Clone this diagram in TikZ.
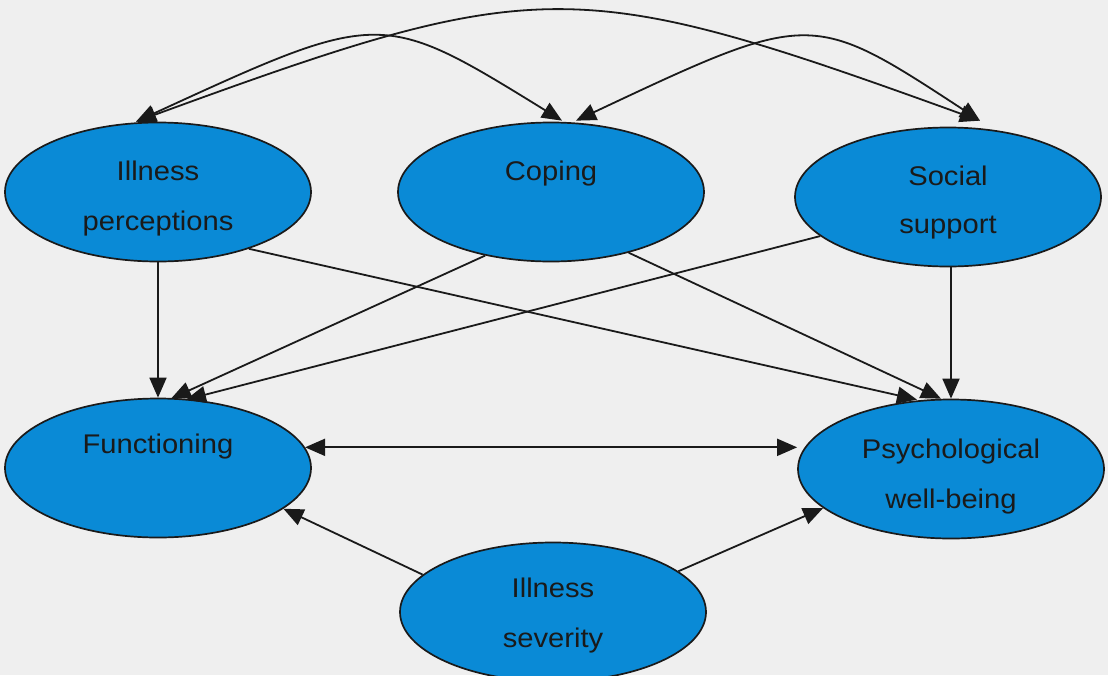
\documentclass[tikz,border=0pt]{standalone}
\usepackage{fontspec}
\setmainfont{Liberation Sans}[FakeStretch=1.08]
\usetikzlibrary{arrows.meta,calc,shapes.geometric}
\definecolor{blobfill}{HTML}{0A8AD6}
\definecolor{ink}{HTML}{1A1A1A}
\definecolor{paper}{HTML}{EFEFEF}
\begin{document}
\begin{tikzpicture}[x=1pt,y=-1pt,
  blob/.style={ellipse,draw=ink,line width=1.7pt,fill=blobfill,inner sep=0pt,
    minimum width=306pt,minimum height=139pt},
  lbl/.style={anchor=base,inner sep=0pt,text=ink,font=\fontsize{27}{30}\selectfont},
  head/.tip={Triangle[length=20pt,width=17pt]},
  conn/.style={draw=ink,line width=1.8pt,-head},
  both/.style={draw=ink,line width=1.8pt,head-head}]

% page
\fill[paper] (0,0) rectangle (1108,675);
\useasboundingbox (0,0) rectangle (1108,675);

% factors
\node[blob] (ip) at (158,192) {};
\node[blob] (cp) at (551,192) {};
\node[blob] (ss) at (948,197) {};
\node[blob] (fn) at (158,468) {};
\node[blob] (ps) at (951,469) {};
\node[blob] (sv) at (553,612) {};

\node[lbl] (ipA) at (158,180) {Illness};
\node[lbl] (ipB) at (158,230) {perceptions};
\node[lbl] (cpA) at (551,180) {Coping};
\node[lbl] (ssA) at (948,185) {Social};
\node[lbl] (ssB) at (948,233) {support};
\node[lbl] (fnA) at (158,453) {Functioning};
\node[lbl] (psA) at (951,458) {Psychological};
\node[lbl] (psB) at (951,508) {well-being};
\node[lbl] (svA) at (553,597) {Illness};
\node[lbl] (svB) at (553,647) {severity};

% arrow end points on the upper row
\coordinate (ipT) at ($(ip.north)+(-22,0)$);
\coordinate (cpTl) at ($(cp.north)+(11,-1)$);
\coordinate (cpTr) at ($(cp.north)+(25,-1)$);
\coordinate (ssT) at ($(ss.north)+(32,-6)$);

% mutual links across the top
\draw[both] (ipT) .. controls (540,-26) and (575,-26) .. (ssT);
\draw[both] (ipT) .. controls (381,9) .. (cpTl);
\draw[both] (cpTr) .. controls (811,10) .. (ssT);

% into functioning
\draw[conn] (ip.south) -- (fn.north);
\draw[conn] (cp.224) -- ($(fn.north)+(13,1)$);
\draw[conn] (ss.197) -- ($(fn.north)+(28,2)$);

% into psychological well-being
\draw[conn] (ip.-32) -- ($(ps.north)+(-34,1)$);
\draw[conn] (cp.322) -- ($(ps.north)+(-10,0)$);
\draw[conn] (ps.north |- ss.south) -- (ps.north);

% functioning and well-being
\draw[both] (fn.8) -- (fn.8 -| ps.west);

% illness severity
\draw[conn] (sv.164) -- (fn.342);
\draw[conn] (sv.18) -- (ps.197);
\end{tikzpicture}
\end{document}
